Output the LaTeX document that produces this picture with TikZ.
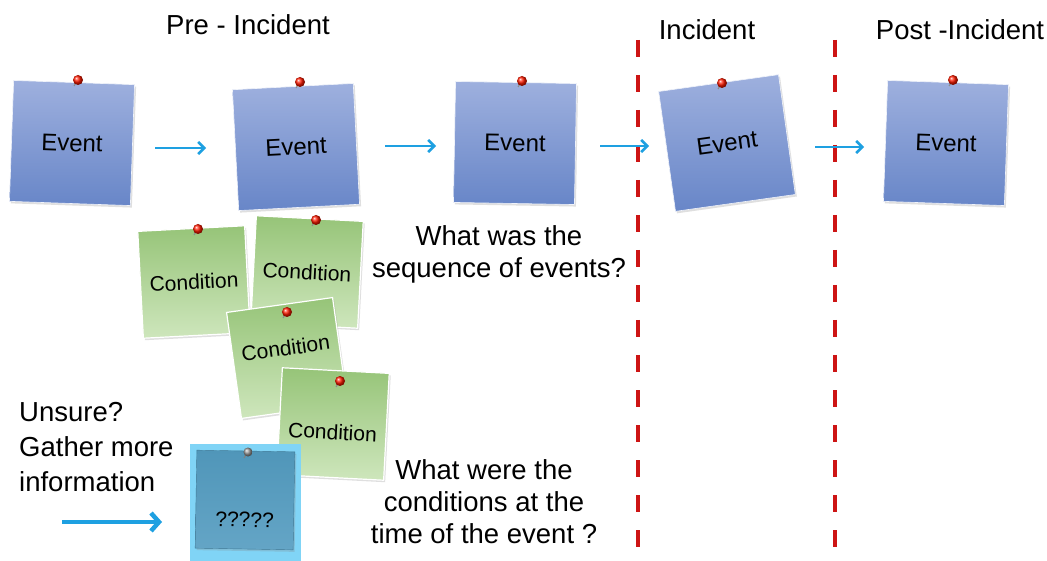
\documentclass[tikz,border=0pt]{standalone}
\usepackage{fontspec}
\setmainfont{Liberation Sans}
\usetikzlibrary{shadows,arrows.meta}
\definecolor{evtop}{RGB}{158,176,222}
\definecolor{evmid}{RGB}{166,184,226}
\definecolor{evbot}{RGB}{104,134,200}
\definecolor{cntop}{RGB}{150,196,120}
\definecolor{cnbot}{RGB}{206,230,188}
\definecolor{arrowblue}{RGB}{30,160,225}
\definecolor{divred}{RGB}{205,20,20}
\definecolor{qback}{RGB}{128,212,246}
\definecolor{qtop}{RGB}{80,150,185}
\definecolor{qbot}{RGB}{100,165,198}
\tikzset{
  note/.style={minimum width=#1, minimum height=#1, inner sep=0pt,
    drop shadow={opacity=0.25, shadow xshift=1.5pt, shadow yshift=-2pt}},
  eventnote/.style={note=121pt, top color=evtop, middle color=evmid, bottom color=evbot,
    draw=white!85!evtop, line width=0.6pt, font=\fontsize{24}{28}\selectfont},
  condnote/.style={note=107pt, top color=cntop, bottom color=cnbot,
    draw=white, line width=1.2pt, font=\fontsize{21}{25}\selectfont},
  label/.style={font=\fontsize{27.5}{32}\selectfont, align=center, inner sep=0pt},
  flow/.style={draw=arrowblue, line width=2.6pt, -{Straight Barb[length=6pt,width=12pt]}},
  divider/.style={draw=divred, line width=4.5pt, dash pattern=on 17pt off 18pt},
}
\newcommand\pushpin[1]{%
  \draw[black!45, line width=1.1pt] #1 -- ++(-4,6);
  \shade[ball color=red!80!orange] #1 circle (5pt);}
\begin{document}
\begin{tikzpicture}[x=1pt,y=-1pt]
\useasboundingbox[fill=white] (0,0) rectangle (1047,561);

% titles
\node[label] (tpre) at (248,25) {Pre - Incident};
\node[label] (tinc) at (707,30) {Incident};
\node[label] (tpost) at (960,30) {Post -Incident};

% dividers
\coordinate (d1a) at (638,40); \coordinate (d1b) at (638,548);
\coordinate (d2a) at (835,40); \coordinate (d2b) at (835,548);

% event notes
\node[eventnote, rotate=-2] (e1) at (72,143) {Event};
\node[eventnote, rotate=3] (e2) at (296,147) {Event};
\node[eventnote, rotate=-1] (e3) at (515,143) {Event};
\node[eventnote, rotate=8] (e4) at (727,143) {Event};
\node[eventnote, rotate=-2] (e5) at (946,143) {Event};
\pushpin{(78,80)}
\pushpin{(300,82)}
\pushpin{(522,81)}
\pushpin{(722,83)}
\pushpin{(953,80)}

\draw[divider] (d1a) -- (d1b);
\draw[divider] (d2a) -- (d2b);

% event arrows
\coordinate (a1s) at (155,148); \coordinate (a1e) at (206,148);
\coordinate (a2s) at (385,146); \coordinate (a2e) at (436,146);
\coordinate (a3s) at (600,146); \coordinate (a3e) at (649,146);
\coordinate (a4s) at (815,147); \coordinate (a4e) at (864,147);
\draw[flow] (a1s) -- (a1e);
\draw[flow] (a2s) -- (a2e);
\draw[flow] (a3s) -- (a3e);
\draw[flow] (a4s) -- (a4e);

% condition notes
\node[condnote, rotate=3] (c1) at (194,282) {Condition};
\node[condnote, rotate=-3] (c2) at (307,272) {Condition};
\node[condnote, rotate=8, text height=15pt, text depth=20pt] (c3) at (287,358) {Condition};
\node[condnote, rotate=-3, text height=31pt, text depth=0pt] (c4) at (333,424) {Condition};
\pushpin{(198,229)}
\pushpin{(316,220)}
\pushpin{(287,312)}
\pushpin{(340,381)}

% question note
\node[fill=qback, minimum width=111pt, minimum height=117pt, inner sep=0pt] (qb) at (245,502) {};
\node[note=98pt, top color=qtop, bottom color=qbot, draw=qtop!80!black, line width=0.4pt,
      rotate=-1, text height=54pt, text depth=0pt, font=\fontsize{21}{25}\selectfont] (q) at (245,500) {?????};
\draw[black!50, line width=1.1pt] (248,452) -- ++(-4,6);
\shade[ball color=black!40] (248,452) circle (4.5pt);

% labels
\node[label] (seq) at (499,254) {What was the\\sequence of events?};
\node[label] (cond) at (484,502) {What were the\\conditions at the\\time of the event ?};
\node[label, align=left, anchor=north west, font=\fontsize{27.5}{35}\selectfont] (unsure) at (19,402) {Unsure?\\Gather more\\information};

\coordinate (ua) at (62,522); \coordinate (ub) at (162,522);
\draw[draw=arrowblue, line width=4.5pt, -{Straight Barb[length=8pt,width=18pt]}] (ua) -- (ub);
\end{tikzpicture}
\end{document}
